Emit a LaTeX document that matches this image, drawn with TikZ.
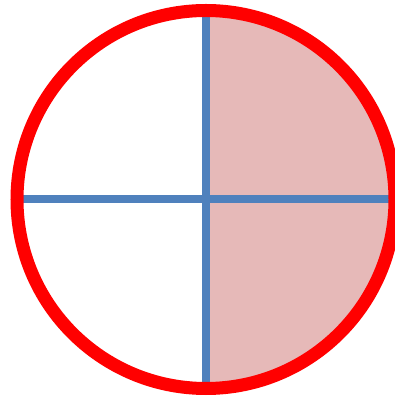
\documentclass[tikz,border=0pt]{standalone}
\usepackage{tikz}
\definecolor{ringred}{HTML}{FF0000}
\definecolor{axisblue}{HTML}{4F81BD}
\definecolor{halfpink}{HTML}{E6B9B8}

\begin{document}
\begin{tikzpicture}[x=1pt,y=1pt,
  rim/.style={draw=ringred,line width=13pt},
  axis/.style={draw=axisblue,line width=8pt}]
\useasboundingbox (0,0) rectangle (395,401);
\clip (0,0) rectangle (395,401);
\coordinate (c) at (206,201.5);
\coordinate (top) at (206,391);
\coordinate (bottom) at (206,16);
\coordinate (left) at (22,202);
\coordinate (right) at (392,202);
\fill[halfpink] (c) ++(0,189) arc[start angle=90,end angle=-90,radius=189] -- cycle;
\draw[axis] (top) -- (bottom);
\draw[axis] (left) -- (right);
\draw[rim] (c) circle[radius=189];
\end{tikzpicture}
\end{document}
